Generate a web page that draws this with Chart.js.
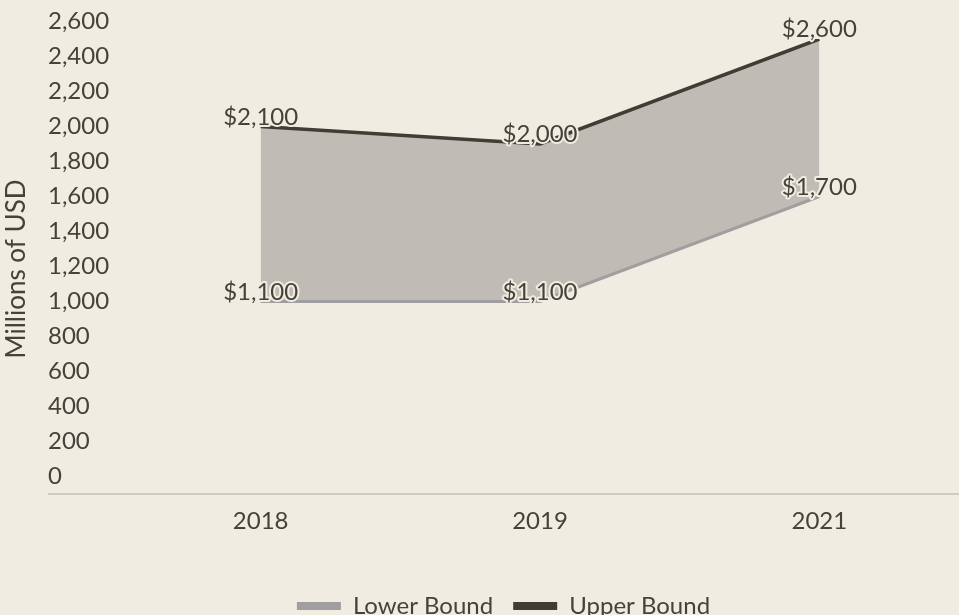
<!DOCTYPE html>
<html>
<head>
<meta charset="utf-8">
<script src="https://cdn.jsdelivr.net/npm/chart.js@4"></script>
<style>
  html, body { margin: 0; padding: 0; background: #F0ECE1; }
  #wrap { width: 959px; height: 615px; }
</style>
</head>
<body>
<div id="wrap"><canvas id="chart" width="959" height="615"></canvas></div>
<script>
const years = ['2018', '2019', '2021'];
const lowerBound = [1100, 1100, 1700];
const upperBound = [2100, 2000, 2600];
const yTicks = [0, 200, 400, 600, 800, 1000, 1200, 1400, 1600, 1800, 2000, 2200, 2400, 2600];

const bg = '#F0ECE1';
const textColor = '#45423A';
const fontFamily = 'Lato, "Open Sans", sans-serif';

// y title + long baseline, drawn by hand like the original
const decorations = {
    id: 'decorations',
    afterLayout(chart) {
        // legend sits lower than chart.js wants to put it
        if (chart.legend) {
            chart.legend.top += 13;
            chart.legend.bottom += 13;
        }
    },
    beforeDatasetsDraw(chart) {
        const { ctx, chartArea } = chart;
        ctx.save();
        ctx.strokeStyle = '#CFCBC0';
        ctx.lineWidth = 2;
        ctx.beginPath();
        ctx.moveTo(48, chartArea.bottom);
        ctx.lineTo(chart.width, chartArea.bottom);
        ctx.stroke();

        ctx.translate(17, 269);
        ctx.rotate(-Math.PI / 2);
        ctx.fillStyle = textColor;
        ctx.font = '26px ' + fontFamily;
        ctx.textAlign = 'center';
        ctx.textBaseline = 'middle';
        ctx.fillText('Millions of USD', 0, 0);
        ctx.restore();
    }
};

const valueLabels = {
    id: 'valueLabels',
    afterDatasetsDraw(chart) {
        const { ctx } = chart;
        ctx.save();
        ctx.font = '24px ' + fontFamily;
        ctx.textAlign = 'center';
        ctx.textBaseline = 'alphabetic';
        ctx.lineJoin = 'round';
        chart.data.datasets.forEach((ds, i) => {
            const meta = chart.getDatasetMeta(i);
            meta.data.forEach((pt, j) => {
                const txt = '$' + ds.data[j].toLocaleString('en-US');
                ctx.strokeStyle = bg;
                ctx.lineWidth = 4;
                ctx.strokeText(txt, pt.x, pt.y - 2);
                ctx.fillStyle = textColor;
                ctx.fillText(txt, pt.x, pt.y - 2);
            });
        });
        ctx.restore();
    }
};

new Chart(document.getElementById('chart'), {
    type: 'line',
    data: {
        labels: years,
        datasets: [
            {
                label: 'Lower Bound',
                data: lowerBound,
                borderColor: '#A09FA0',
                backgroundColor: '#A09FA0',
                borderWidth: 3,
                pointRadius: 0,
                tension: 0,
                fill: false
            },
            {
                label: 'Upper Bound',
                data: upperBound,
                borderColor: '#403D35',
                backgroundColor: '#403D35',
                borderWidth: 3.5,
                pointRadius: 0,
                tension: 0,
                fill: { target: '-1', above: '#C0BCB5', below: '#C0BCB5' }
            }
        ]
    },
    options: {
        responsive: false,
        animation: false,
        layout: { padding: { left: 48, top: 39, right: 0, bottom: 0 } },
        plugins: {
            tooltip: { enabled: false },
            filler: { propagate: false },
            legend: {
                position: 'bottom',
                labels: {
                    color: textColor,
                    font: { family: fontFamily, size: 24 },
                    boxWidth: 44,
                    boxHeight: 8,
                    padding: 20,
                    generateLabels(chart) {
                        return chart.data.datasets.map((ds, i) => ({
                            text: ds.label,
                            fillStyle: ds.borderColor,
                            strokeStyle: ds.borderColor,
                            lineWidth: 0,
                            fontColor: textColor,
                            datasetIndex: i
                        }));
                    }
                }
            }
        },
        scales: {
            x: {
                offset: true,
                grid: { display: false, drawTicks: false },
                border: { display: false },
                ticks: { color: textColor, font: { family: fontFamily, size: 24 }, padding: 13 },
                afterFit(scale) { scale.height = 67; }
            },
            y: {
                min: 0,
                max: 2600,
                afterBuildTicks(scale) { scale.ticks = yTicks.map(v => ({ value: v })); },
                grid: { display: false, drawTicks: false },
                border: { display: false },
                ticks: {
                    color: textColor,
                    font: { family: fontFamily, size: 24 },
                    crossAlign: 'far',
                    labelOffset: -18,
                    callback: v => v.toLocaleString('en-US')
                },
                afterFit(scale) { scale.width = 73; }
            }
        }
    },
    plugins: [decorations, valueLabels]
});
</script>
</body>
</html>
